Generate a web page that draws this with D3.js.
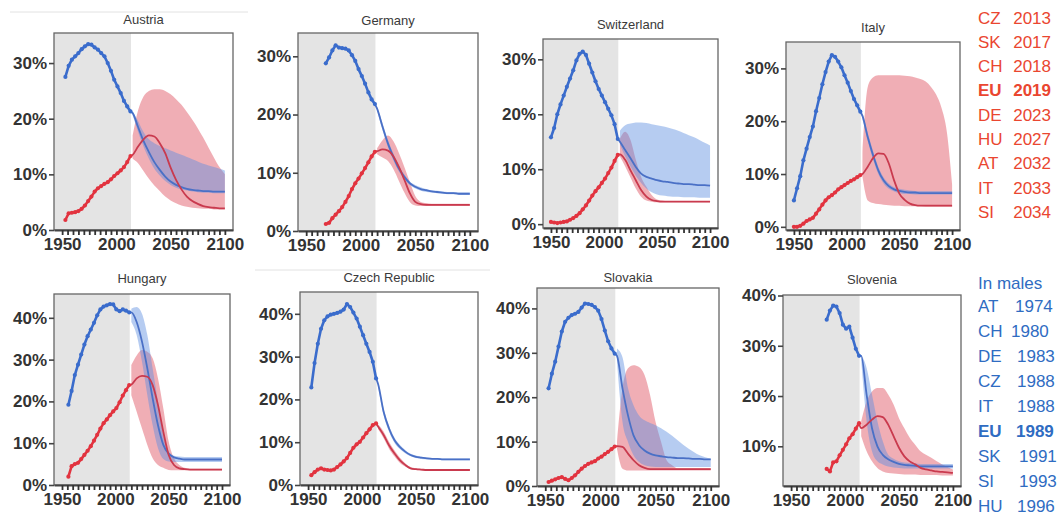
<!DOCTYPE html>
<html>
<head>
<meta charset="utf-8">
<script src="https://cdn.jsdelivr.net/npm/d3@7"></script>
<style>
  body { margin: 0; background: #fff; }
  svg text { font-family: "Liberation Sans", Arial, sans-serif; }
</style>
</head>
<body>
<svg id="chart" width="1058" height="520"></svg>
<script>
// observed years (3-year grid) and projection years
const obsYears = [1950, 1953, 1956, 1959, 1962, 1965, 1968, 1971, 1974, 1977, 1980, 1983, 1986, 1989, 1992, 1995, 1998, 2001, 2004, 2007, 2010, 2013];
const projYears = [2015, 2020, 2025, 2030, 2035, 2040, 2045, 2050, 2055, 2060, 2065, 2070, 2075, 2080, 2085, 2090, 2095, 2100];

// Austria
const atMaleObs = [null, 27.5, 29.5, 30.6, 31.2, 31.8, 32.5, 33.0, 33.4, 33.3, 32.8, 32.4, 31.8, 31.2, 30.0, 28.6, 27.0, 25.8, 24.6, 23.2, 22.2, 21.3];
const atFemaleObs = [null, 1.8, 3.0, 3.1, 3.2, 3.4, 3.8, 4.4, 5.2, 6.0, 6.9, 7.5, 7.9, 8.3, 8.6, 9.1, 9.7, 10.2, 10.7, 11.3, 12.2, 13.3];
const atMale = [21.0, 18.5, 16.0, 14.0, 12.2, 10.8, 9.6, 8.7, 8.1, 7.7, 7.4, 7.2, 7.1, 7.0, 7.0, 6.9, 6.9, 6.9];
const atMaleLo = [20.6, 17.6, 15.0, 12.8, 11.0, 9.8, 8.8, 8.1, 7.6, 7.3, 7.1, 6.9, 6.8, 6.7, 6.7, 6.6, 6.6, 6.6];
const atMaleHi = [21.4, 19.6, 17.6, 16.3, 15.6, 15.1, 14.7, 14.3, 13.9, 13.5, 13.1, 12.7, 12.3, 11.9, 11.6, 11.3, 11.0, 10.7];
const atFemale = [13.5, 15.0, 16.3, 17.0, 16.8, 15.6, 13.8, 11.2, 9.0, 7.3, 6.0, 5.2, 4.7, 4.3, 4.1, 4.0, 3.9, 3.9];
const atFemaleLo = [12.8, 12.0, 10.6, 9.2, 8.0, 7.0, 6.0, 5.3, 4.8, 4.4, 4.2, 4.0, 3.9, 3.8, 3.8, 3.7, 3.7, 3.7];
const atFemaleHi = [17.0, 21.5, 24.0, 25.0, 25.3, 25.3, 25.0, 24.4, 23.5, 22.5, 21.2, 19.8, 18.3, 16.6, 14.8, 13.0, 11.3, 10.0];

// Germany
const deMaleObs = [null, null, null, null, null, null, 28.8, 29.8, 31.0, 31.9, 31.5, 31.4, 31.3, 31.0, 30.2, 29.2, 27.8, 26.6, 25.3, 23.8, 22.6, 21.8];
const deFemaleObs = [null, null, null, null, null, null, 1.2, 1.4, 2.2, 2.8, 3.4, 4.1, 5.0, 6.0, 7.2, 8.2, 9.0, 9.9, 10.8, 11.8, 12.8, 13.6];
const deMale = [21.0, 17.9, 15.0, 12.7, 10.7, 9.3, 8.2, 7.6, 7.2, 7.0, 6.8, 6.7, 6.6, 6.5, 6.5, 6.4, 6.4, 6.4];
const deMaleLo = [20.6, 17.3, 14.4, 12.1, 10.2, 8.9, 7.9, 7.3, 6.9, 6.7, 6.6, 6.5, 6.4, 6.3, 6.3, 6.2, 6.2, 6.2];
const deMaleHi = [21.4, 18.5, 15.6, 13.3, 11.2, 9.7, 8.5, 7.9, 7.5, 7.2, 7.0, 6.9, 6.8, 6.7, 6.7, 6.6, 6.6, 6.6];
const deFemale = [13.7, 14.0, 13.8, 12.8, 11.0, 8.8, 6.5, 5.0, 4.6, 4.5, 4.5, 4.5, 4.5, 4.5, 4.5, 4.5, 4.5, 4.5];
const deFemaleLo = [13.2, 12.6, 12.0, 10.6, 8.6, 6.6, 5.0, 4.4, 4.3, 4.3, 4.3, 4.3, 4.3, 4.3, 4.3, 4.3, 4.3, 4.3];
const deFemaleHi = [14.2, 15.6, 16.4, 15.4, 13.4, 11.0, 8.4, 6.0, 5.0, 4.8, 4.7, 4.7, 4.7, 4.7, 4.7, 4.7, 4.7, 4.7];

// Switzerland
const chMaleObs = [15.8, 17.5, 20.0, 21.8, 23.4, 25.0, 26.5, 28.0, 29.8, 31.0, 31.4, 30.8, 29.2, 27.6, 26.0, 24.6, 23.4, 22.2, 21.0, 19.8, 18.2, 15.5];
const chFemaleObs = [0.4, 0.3, 0.2, 0.3, 0.4, 0.5, 0.8, 1.1, 1.5, 2.0, 2.7, 3.4, 4.3, 5.2, 6.0, 6.7, 7.5, 8.3, 9.3, 10.3, 11.5, 12.6];
const chMale = [15.0, 13.5, 12.0, 10.4, 9.2, 8.6, 8.3, 8.0, 7.8, 7.7, 7.5, 7.4, 7.3, 7.3, 7.2, 7.1, 7.1, 7.0];
const chMaleLo = [14.5, 12.3, 10.5, 8.8, 7.5, 6.5, 5.8, 5.4, 5.2, 5.1, 5.0, 5.0, 4.9, 4.9, 4.9, 4.8, 4.8, 4.8];
const chMaleHi = [17.0, 18.0, 18.3, 18.5, 18.5, 18.4, 18.2, 18.0, 17.8, 17.6, 17.3, 17.0, 16.6, 16.2, 15.8, 15.3, 14.8, 14.3];
const chFemale = [12.7, 11.7, 9.8, 8.0, 6.2, 5.0, 4.4, 4.2, 4.1, 4.1, 4.1, 4.1, 4.1, 4.1, 4.1, 4.1, 4.1, 4.1];
const chFemaleLo = [12.3, 10.5, 8.5, 6.5, 5.0, 4.3, 4.1, 4.0, 4.0, 4.0, 4.0, 4.0, 4.0, 4.0, 4.0, 4.0, 4.0, 4.0];
const chFemaleHi = [15.5, 16.8, 15.3, 11.7, 8.6, 6.8, 5.3, 4.5, 4.3, 4.2, 4.2, 4.2, 4.2, 4.2, 4.2, 4.2, 4.2, 4.2];

// Italy
const itMaleObs = [5.0, 7.3, 9.6, 12.6, 14.8, 17.0, 19.0, 21.9, 24.4, 27.0, 29.3, 31.3, 32.5, 32.2, 31.3, 30.2, 28.7, 27.3, 25.7, 24.2, 23.0, 21.8];
const itFemaleObs = [0.0, 0.0, 0.2, 0.6, 1.1, 1.4, 1.7, 2.5, 3.3, 4.2, 5.0, 5.6, 6.0, 6.5, 7.1, 7.5, 7.9, 8.3, 8.7, 9.0, 9.4, 9.8];
const itMale = [21.0, 17.0, 13.6, 10.7, 8.8, 7.7, 7.1, 6.8, 6.6, 6.5, 6.5, 6.4, 6.4, 6.4, 6.4, 6.4, 6.4, 6.4];
const itMaleLo = [20.4, 16.2, 12.8, 10.0, 8.2, 7.2, 6.7, 6.4, 6.2, 6.2, 6.1, 6.1, 6.1, 6.1, 6.1, 6.1, 6.1, 6.1];
const itMaleHi = [21.6, 17.8, 14.4, 11.4, 9.4, 8.2, 7.5, 7.2, 7.0, 6.9, 6.8, 6.8, 6.8, 6.8, 6.8, 6.8, 6.8, 6.8];
const itFemale = [10.0, 11.4, 13.0, 13.9, 13.8, 12.0, 8.8, 6.3, 5.1, 4.4, 4.1, 4.0, 4.0, 4.0, 4.0, 4.0, 4.0, 4.0];
const itFemaleLo = [9.5, 5.0, 4.5, 4.3, 4.2, 4.1, 4.0, 4.0, 3.9, 3.9, 3.9, 3.9, 3.8, 3.8, 3.8, 3.8, 3.8, 3.8];
const itFemaleHi = [14.0, 26.5, 28.3, 28.7, 28.7, 28.7, 28.7, 28.7, 28.6, 28.5, 28.3, 28.0, 27.5, 26.5, 25.0, 22.5, 18.0, 8.0];

// Hungary
const huMaleObs = [null, null, 19.2, 22.5, 26.3, 28.8, 31.2, 33.6, 35.6, 37.2, 38.8, 40.6, 42.0, 42.7, 43.0, 43.3, 43.2, 42.0, 41.6, 42.0, 41.7, 41.3];
const huFemaleObs = [null, null, 2.0, 4.5, 5.0, 5.3, 6.2, 7.2, 8.2, 9.3, 10.6, 12.0, 13.5, 14.8, 15.7, 16.7, 17.6, 18.4, 19.8, 21.4, 22.7, 23.9];
const huMale = [41.3, 39.0, 34.3, 27.9, 20.7, 14.3, 9.6, 7.5, 6.6, 6.3, 6.1, 6.1, 6.1, 6.1, 6.1, 6.1, 6.1, 6.1];
const huMaleLo = [39.0, 35.9, 29.5, 21.5, 14.3, 8.8, 6.2, 5.6, 5.5, 5.5, 5.5, 5.5, 5.5, 5.5, 5.5, 5.5, 5.5, 5.5];
const huMaleHi = [42.2, 42.6, 41.0, 35.9, 27.9, 19.9, 12.0, 8.0, 7.0, 6.8, 6.7, 6.7, 6.7, 6.7, 6.7, 6.7, 6.7, 6.7];
const huFemale = [24.0, 25.5, 26.1, 25.9, 23.9, 19.1, 12.7, 7.2, 4.8, 4.0, 3.8, 3.7, 3.7, 3.7, 3.7, 3.7, 3.7, 3.7];
const huFemaleLo = [21.5, 17.5, 13.5, 9.6, 6.4, 4.8, 4.1, 3.6, 3.5, 3.5, 3.5, 3.5, 3.5, 3.5, 3.5, 3.5, 3.5, 3.5];
const huFemaleHi = [28.7, 31.0, 32.3, 31.9, 30.3, 25.5, 18.3, 10.4, 6.4, 4.8, 4.1, 3.9, 3.9, 3.9, 3.9, 3.9, 3.9, 3.9];

// Czech Republic
const czMaleObs = [null, 22.8, 28.5, 33.0, 36.5, 38.5, 39.4, 39.8, 40.0, 40.2, 40.5, 41.0, 42.3, 41.6, 40.3, 38.9, 37.0, 35.0, 33.0, 31.1, 28.8, 24.9];
const czFemaleObs = [null, 2.3, 3.0, 3.6, 3.9, 3.6, 3.5, 3.4, 3.6, 4.2, 4.8, 5.5, 6.3, 7.5, 8.7, 9.5, 10.1, 11.1, 12.1, 13.0, 14.0, 14.4];
const czMale = [23.5, 17.1, 13.2, 10.5, 8.9, 7.8, 7.0, 6.6, 6.4, 6.2, 6.1, 6.1, 6.0, 6.0, 6.0, 6.0, 6.0, 6.0];
const czMaleLo = [22.8, 16.3, 12.5, 9.9, 8.4, 7.4, 6.7, 6.3, 6.1, 6.0, 5.9, 5.9, 5.8, 5.8, 5.8, 5.8, 5.8, 5.8];
const czMaleHi = [24.2, 17.9, 13.9, 11.1, 9.4, 8.2, 7.3, 6.9, 6.6, 6.4, 6.3, 6.3, 6.2, 6.2, 6.2, 6.2, 6.2, 6.2];
const czFemale = [13.6, 11.7, 9.3, 7.4, 5.8, 4.7, 3.9, 3.7, 3.6, 3.5, 3.5, 3.5, 3.5, 3.5, 3.5, 3.5, 3.5, 3.5];
const czFemaleLo = [13.0, 10.9, 8.5, 6.7, 5.2, 4.3, 3.7, 3.5, 3.4, 3.4, 3.4, 3.4, 3.4, 3.4, 3.4, 3.4, 3.4, 3.4];
const czFemaleHi = [14.2, 12.5, 10.1, 8.1, 6.4, 5.1, 4.2, 3.9, 3.7, 3.6, 3.6, 3.6, 3.6, 3.6, 3.6, 3.6, 3.6, 3.6];

// Slovakia
const skMaleObs = [null, 22.0, 25.3, 28.0, 31.4, 34.8, 37.0, 37.9, 38.5, 38.8, 39.2, 40.2, 41.1, 41.0, 40.8, 40.3, 39.5, 37.6, 35.0, 32.6, 31.0, 29.8];
const skFemaleObs = [null, 0.9, 1.2, 1.5, 1.8, 2.0, 1.6, 1.3, 1.8, 2.4, 3.2, 3.9, 4.5, 5.0, 5.3, 5.6, 6.2, 6.6, 7.2, 7.7, 8.3, 8.9];
const skMale = [29.3, 22.0, 15.9, 11.4, 9.2, 8.0, 7.3, 6.9, 6.7, 6.5, 6.4, 6.3, 6.3, 6.2, 6.1, 6.1, 6.0, 6.0];
const skMaleLo = [28.0, 14.4, 9.9, 6.9, 5.4, 4.7, 4.4, 4.3, 4.3, 4.3, 4.3, 4.3, 4.3, 4.3, 4.3, 4.3, 4.3, 4.3];
const skMaleHi = [31.0, 29.0, 22.0, 18.2, 15.9, 14.8, 14.2, 13.7, 13.0, 12.2, 11.3, 10.3, 9.3, 8.4, 7.6, 6.9, 6.5, 6.2];
const skFemale = [9.0, 8.8, 7.3, 5.8, 4.7, 4.1, 3.8, 3.8, 3.8, 3.8, 3.8, 3.8, 3.8, 3.8, 3.8, 3.8, 3.8, 3.8];
const skFemaleLo = [8.4, 3.9, 3.5, 3.5, 3.5, 3.5, 3.5, 3.5, 3.5, 3.5, 3.5, 3.5, 3.5, 3.5, 3.5, 3.5, 3.5, 3.5];
const skFemaleHi = [9.9, 22.0, 26.5, 27.2, 26.8, 25.0, 20.5, 14.4, 9.9, 5.8, 4.7, 4.0, 4.0, 4.0, 4.0, 4.0, 4.0, 4.0];

// Slovenia
const siMaleObs = [null, null, null, null, null, null, null, null, null, null, null, 35.2, 37.0, 38.0, 37.8, 36.5, 34.2, 33.4, 33.8, 31.6, 29.4, 28.0];
const siFemaleObs = [null, null, null, null, null, null, null, null, null, null, null, 5.5, 5.0, 6.8, 7.0, 8.2, 9.3, 10.4, 11.6, 12.4, 13.5, 14.6];
const siMale = [28.0, 20.3, 13.6, 10.0, 8.3, 7.4, 6.9, 6.5, 6.3, 6.2, 6.1, 6.0, 6.0, 6.0, 6.0, 6.0, 6.0, 6.0];
const siMaleLo = [27.0, 15.0, 9.0, 7.0, 6.4, 6.0, 5.8, 5.7, 5.6, 5.6, 5.6, 5.6, 5.6, 5.6, 5.6, 5.6, 5.6, 5.6];
const siMaleHi = [28.2, 25.6, 20.3, 15.0, 11.0, 8.3, 7.5, 7.0, 6.8, 6.7, 6.6, 6.5, 6.5, 6.5, 6.5, 6.5, 6.5, 6.5];
const siFemale = [13.6, 14.3, 15.3, 16.0, 15.8, 14.3, 12.0, 9.7, 8.0, 7.0, 6.4, 5.7, 5.4, 5.2, 5.0, 4.9, 4.8, 4.7];
const siFemaleLo = [12.0, 9.0, 7.0, 5.7, 5.0, 4.7, 4.6, 4.5, 4.4, 4.4, 4.4, 4.3, 4.3, 4.3, 4.3, 4.2, 4.2, 4.2];
const siFemaleHi = [15.0, 18.9, 20.9, 21.6, 21.6, 20.3, 18.3, 15.6, 13.6, 11.7, 10.3, 9.0, 8.3, 7.7, 7.0, 6.4, 5.9, 5.4];

// peak years listed on the right
const femaleCodes = ["CZ", "SK", "CH", "EU", "DE", "HU", "AT", "IT", "SI"];
const femalePeaks = [2013, 2017, 2018, 2019, 2023, 2027, 2032, 2033, 2034];
const maleCodes = ["AT", "CH", "DE", "CZ", "IT", "EU", "SK", "SI", "HU"];
const malePeaks = [1974, 1980, 1983, 1988, 1988, 1989, 1991, 1993, 1996];

const xLabels = [1950, 2000, 2050, 2100];

// panel frames in page pixels
const panels = [
  { name: "Austria", left: 54, right: 233, top: 33, bottom: 230, yDom: [0, 35.4], yTicks: [0, 10, 20, 30], titleY: 24,
    m: [atMaleObs, atMale, atMaleLo, atMaleHi], f: [atFemaleObs, atFemale, atFemaleLo, atFemaleHi] },
  { name: "Germany", left: 298, right: 478, top: 33, bottom: 231, yDom: [0, 34], yTicks: [0, 10, 20, 30], titleY: 25,
    m: [deMaleObs, deMale, deMaleLo, deMaleHi], f: [deFemaleObs, deFemale, deFemaleLo, deFemaleHi] },
  { name: "Switzerland", left: 543, right: 718, top: 39, bottom: 228, yDom: [-0.7, 33.7], yTicks: [0, 10, 20, 30], titleY: 29,
    m: [chMaleObs, chMale, chMaleLo, chMaleHi], f: [chFemaleObs, chFemale, chFemaleLo, chFemaleHi] },
  { name: "Italy", left: 786, right: 960, top: 42, bottom: 230, yDom: [-0.6, 35], yTicks: [0, 10, 20, 30], titleY: 32,
    m: [itMaleObs, itMale, itMaleLo, itMaleHi], f: [itFemaleObs, itFemale, itFemaleLo, itFemaleHi] },
  { name: "Hungary", left: 54, right: 230, top: 294, bottom: 485, yDom: [0, 45.7], yTicks: [0, 10, 20, 30, 40], titleY: 283,
    m: [huMaleObs, huMale, huMaleLo, huMaleHi], f: [huFemaleObs, huFemale, huFemaleLo, huFemaleHi] },
  { name: "Czech Republic", left: 300, right: 478, top: 292, bottom: 485, yDom: [0, 45.1], yTicks: [0, 10, 20, 30, 40], titleY: 282,
    m: [czMaleObs, czMale, czMaleLo, czMaleHi], f: [czFemaleObs, czFemale, czFemaleLo, czFemaleHi] },
  { name: "Slovakia", left: 537, right: 719, top: 288, bottom: 486, yDom: [0, 44.6], yTicks: [0, 10, 20, 30, 40], titleY: 282,
    m: [skMaleObs, skMale, skMaleLo, skMaleHi], f: [skFemaleObs, skFemale, skFemaleLo, skFemaleHi] },
  { name: "Slovenia", left: 783, right: 961, top: 295, bottom: 486, yDom: [2.1, 40.1], yTicks: [10, 20, 30, 40], titleY: 284,
    m: [siMaleObs, siMale, siMaleLo, siMaleHi], f: [siFemaleObs, siFemale, siFemaleLo, siFemaleHi] }
];

const blue = "#3a6ccc", red = "#e2333f";
const svg = d3.select("#chart");

// faint strip edges left over from the scan
svg.append("line").attr("x1", 10).attr("x2", 248).attr("y1", 12).attr("y2", 12).attr("stroke", "#e2e2e2");
svg.append("line").attr("x1", 255).attr("x2", 490).attr("y1", 270).attr("y2", 270).attr("stroke", "#e2e2e2");

const drawPanel = (p) => {
  const g = svg.append("g");
  const x = d3.scaleLinear().domain([1942.5, 2107.5]).range([p.left, p.right]);
  const y = d3.scaleLinear().domain(p.yDom).range([p.bottom, p.top]);

  const clipId = "clip-" + p.name.replace(/\s/g, "");
  g.append("clipPath").attr("id", clipId)
    .append("rect").attr("x", p.left).attr("y", p.top)
    .attr("width", p.right - p.left).attr("height", p.bottom - p.top);
  const plot = g.append("g").attr("clip-path", `url(#${clipId})`);

  // observed period shading
  plot.append("rect")
    .attr("x", p.left).attr("y", p.top)
    .attr("width", x(2013.5) - p.left).attr("height", p.bottom - p.top)
    .attr("fill", "#e4e4e4");

  const band = (lo, hi) => d3.area()
    .x((d, i) => x(projYears[i]))
    .y0((d, i) => y(lo[i]))
    .y1((d, i) => y(hi[i]))
    .curve(d3.curveMonotoneX)(projYears);

  plot.append("path").attr("d", band(p.f[2], p.f[3])).attr("fill", "#e36b78").attr("fill-opacity", 0.55);
  plot.append("path").attr("d", band(p.m[2], p.m[3])).attr("fill", "#5d8ee0").attr("fill-opacity", 0.45);

  // projection lines, joined to the last observed value
  const projLine = d3.line()
    .x(d => x(d[0]))
    .y(d => y(d[1]))
    .curve(d3.curveMonotoneX);
  const joined = (obs, proj) => {
    const last = obs.length - 1;
    return [[obsYears[last], obs[last]]].concat(proj.map((v, i) => [projYears[i], v]));
  };
  plot.append("path").attr("d", projLine(joined(p.m[0], p.m[1]))).attr("fill", "none")
    .attr("stroke", "#4a70c6").attr("stroke-width", 1.8);
  plot.append("path").attr("d", projLine(joined(p.f[0], p.f[1]))).attr("fill", "none")
    .attr("stroke", "#c93a4e").attr("stroke-width", 1.8);

  // observed points
  const obsLine = d3.line()
    .defined(d => d != null)
    .x((d, i) => x(obsYears[i]))
    .y(d => y(d));
  [[p.m[0], blue], [p.f[0], red]].forEach(([vals, col]) => {
    plot.append("path").attr("d", obsLine(vals)).attr("fill", "none")
      .attr("stroke", col).attr("stroke-width", 2.6).attr("stroke-linejoin", "round");
    plot.selectAll(null)
      .data(vals.map((v, i) => [obsYears[i], v]).filter(d => d[1] != null))
      .join("circle")
      .attr("cx", d => x(d[0])).attr("cy", d => y(d[1]))
      .attr("r", 2.1).attr("fill", col);
  });

  // frame
  g.append("rect")
    .attr("x", p.left).attr("y", p.top)
    .attr("width", p.right - p.left).attr("height", p.bottom - p.top)
    .attr("fill", "none").attr("stroke", "#666").attr("stroke-width", 1.3);

  // y axis
  const yAxis = g.append("g")
    .attr("transform", `translate(${p.left},0)`)
    .call(d3.axisLeft(y).tickValues(p.yTicks).tickFormat(d => d + "%").tickSize(5).tickPadding(2));
  yAxis.select(".domain").remove();
  yAxis.selectAll("line").attr("stroke", "#444").attr("stroke-width", 1.6);
  yAxis.selectAll("text").attr("fill", "#333").style("font-size", "17px").style("font-weight", "bold");

  // x axis, a tick every 5 years
  const minor = x.ticks(30).filter(t => t >= 1950 && t <= 2100);
  const xAxis = g.append("g")
    .attr("transform", `translate(0,${p.bottom})`)
    .call(d3.axisBottom(x).tickValues(minor)
      .tickFormat(d => xLabels.includes(d) ? d : "").tickSize(5).tickSizeOuter(0).tickPadding(3));
  xAxis.select(".domain").attr("stroke", "#444").attr("stroke-width", 1.8);
  xAxis.selectAll("line").attr("stroke", "#333").attr("stroke-width", 1.8);
  xAxis.selectAll("text").attr("fill", "#333").style("font-size", "17px").style("font-weight", "bold");

  // title
  g.append("text")
    .attr("x", (p.left + p.right) / 2).attr("y", p.titleY)
    .attr("text-anchor", "middle").attr("fill", "#3a3a3a")
    .style("font-size", "13px")
    .text(p.name);
};

panels.forEach(drawPanel);

// peak-year lists
const legend = svg.append("g").style("font-size", "17px");
femaleCodes.forEach((c, i) => {
  const yy = 23.5 + i * 24.3;
  const bold = c === "EU" ? "bold" : "normal";
  legend.append("text").attr("x", 978).attr("y", yy).attr("fill", "#ea4630")
    .style("font-weight", bold).text(c);
  legend.append("text").attr("x", 1051).attr("y", yy).attr("text-anchor", "end")
    .attr("fill", "#ea4630").style("font-weight", bold).text(femalePeaks[i]);
});

legend.append("text").attr("x", 978).attr("y", 289).attr("fill", "#2f6cc2").text("In males");
const maleYearX = [1015, 1011, 1017, 1017, 1017, 1016, 1019, 1019, 1017];
maleCodes.forEach((c, i) => {
  const yy = 312 + i * 25;
  const bold = c === "EU" ? "bold" : "normal";
  legend.append("text").attr("x", 978).attr("y", yy).attr("fill", "#2f6cc2")
    .style("font-weight", bold).text(c);
  legend.append("text").attr("x", maleYearX[i]).attr("y", yy)
    .attr("fill", "#2f6cc2").style("font-weight", bold).text(malePeaks[i]);
});
</script>
</body>
</html>
